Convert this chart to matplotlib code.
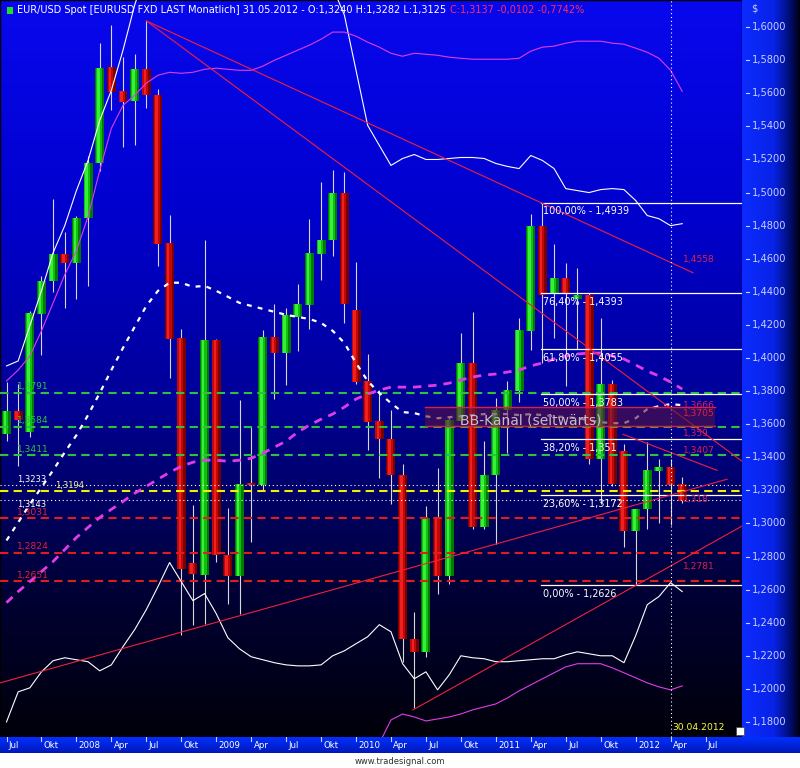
import matplotlib
matplotlib.use("Agg")
import matplotlib.pyplot as plt
import numpy as np
from matplotlib.colors import LinearSegmentedColormap
from matplotlib.transforms import blended_transform_factory
from matplotlib.patches import Rectangle

# monthly EUR/USD candles, Jul 2007 .. May 2012 (month index 0 = Jul 2007)
opens = [1.3540, 1.3680, 1.3552, 1.4267, 1.4467, 1.4630, 1.4576, 1.4848, 1.5176, 1.5758,
         1.5612, 1.5552, 1.5746, 1.5588, 1.4697, 1.4121, 1.2758, 1.2691, 1.4109, 1.2812,
         1.2685, 1.3242, 1.3230, 1.4127, 1.4030, 1.4248, 1.4321, 1.4630, 1.4715, 1.5000,
         1.4291, 1.3861, 1.3618, 1.3509, 1.3291, 1.2303, 1.2224, 1.3030, 1.2685, 1.3618,
         1.3970, 1.2976, 1.3291, 1.3685, 1.3800, 1.4164, 1.4800, 1.4388, 1.4485, 1.4358,
         1.4382, 1.3388, 1.3842, 1.3436, 1.2952, 1.3085, 1.3315, 1.3339, 1.3240]
highs = [1.3855, 1.3840, 1.4285, 1.4497, 1.4964, 1.4764, 1.4860, 1.5218, 1.5903, 1.6012,
         1.5818, 1.5836, 1.6038, 1.5624, 1.4867, 1.4176, 1.3110, 1.4715, 1.4115, 1.3091,
         1.3745, 1.3582, 1.4170, 1.4327, 1.4303, 1.4448, 1.4842, 1.5061, 1.5139, 1.5127,
         1.4582, 1.4024, 1.3806, 1.3685, 1.3358, 1.2467, 1.3103, 1.3333, 1.3650, 1.4152,
         1.4279, 1.3497, 1.3758, 1.3861, 1.4242, 1.4873, 1.4939, 1.4690, 1.4576, 1.4545,
         1.4390, 1.4242, 1.3867, 1.3479, 1.3090, 1.3491, 1.3388, 1.3388, 1.3282]
lows = [1.3500, 1.3350, 1.3520, 1.4018, 1.4400, 1.4303, 1.4357, 1.4436, 1.5133, 1.5497,
        1.5273, 1.5290, 1.5510, 1.4557, 1.3879, 1.2327, 1.2388, 1.2394, 1.2764, 1.2515,
        1.2454, 1.2885, 1.3205, 1.3752, 1.3836, 1.4042, 1.4176, 1.4473, 1.4618, 1.4212,
        1.3840, 1.3443, 1.3273, 1.3115, 1.2164, 1.1885, 1.2194, 1.2576, 1.2636, 1.3600,
        1.2964, 1.2964, 1.2873, 1.3424, 1.3733, 1.4048, 1.3968, 1.4121, 1.3830, 1.4055,
        1.3358, 1.3115, 1.3224, 1.2855, 1.2626, 1.2964, 1.3000, 1.2988, 1.3125]
closes = [1.3680, 1.3624, 1.4273, 1.4467, 1.4630, 1.4576, 1.4848, 1.5176, 1.5752, 1.5606,
          1.5545, 1.5746, 1.5588, 1.4691, 1.4115, 1.2727, 1.2697, 1.4109, 1.2812, 1.2685,
          1.3236, 1.3230, 1.4127, 1.4030, 1.4260, 1.4327, 1.4636, 1.4715, 1.5000, 1.4327,
          1.3855, 1.3612, 1.3509, 1.3291, 1.2303, 1.2224, 1.3030, 1.2685, 1.3624, 1.3970,
          1.2976, 1.3291, 1.3685, 1.3806, 1.4170, 1.4800, 1.4382, 1.4485, 1.4388, 1.4382,
          1.3388, 1.3842, 1.3236, 1.2952, 1.3085, 1.3321, 1.3339, 1.3230, 1.3137]

# white bollinger band
bb_upper = [1.3952, 1.3982, 1.4194, 1.4406, 1.4636, 1.4800, 1.5012, 1.5194, 1.5436, 1.5618,
            1.5861, 1.6133, 1.6350, 1.6480, 1.6520, 1.6550, 1.6520, 1.6550, 1.6530, 1.6480,
            1.6450, 1.6430, 1.6410, 1.6400, 1.6380, 1.6360, 1.6340, 1.6300, 1.6240, 1.6073,
            1.5739, 1.5406, 1.5285, 1.5164, 1.5206, 1.5230, 1.5200, 1.5200, 1.5206, 1.5212,
            1.5212, 1.5206, 1.5176, 1.5158, 1.5145, 1.5224, 1.5194, 1.5145, 1.5024, 1.5012,
            1.5000, 1.5018, 1.5024, 1.5018, 1.4952, 1.4861, 1.4842, 1.4800, 1.4812]
bb_mid = [1.2897, 1.3006, 1.3115, 1.3218, 1.3321, 1.3430, 1.3533, 1.3655, 1.3788, 1.3927,
          1.4061, 1.4188, 1.4315, 1.4406, 1.4455, 1.4455, 1.4430, 1.4436, 1.4406, 1.4370,
          1.4333, 1.4315, 1.4297, 1.4279, 1.4261, 1.4248, 1.4236, 1.4212, 1.4164, 1.4091,
          1.3970, 1.3861, 1.3788, 1.3727, 1.3673, 1.3667, 1.3648, 1.3636, 1.3642, 1.3648,
          1.3655, 1.3661, 1.3661, 1.3661, 1.3655, 1.3661, 1.3655, 1.3648, 1.3642, 1.3636,
          1.3624, 1.3612, 1.3606, 1.3606, 1.3636, 1.3691, 1.3709, 1.3721, 1.3715]
bb_lower = [1.1800, 1.1982, 1.2006, 1.2103, 1.2170, 1.2188, 1.2176, 1.2164, 1.2109, 1.2145,
            1.2255, 1.2358, 1.2479, 1.2618, 1.2764, 1.2648, 1.2533, 1.2576, 1.2455, 1.2309,
            1.2242, 1.2194, 1.2176, 1.2158, 1.2145, 1.2139, 1.2139, 1.2145, 1.2200, 1.2230,
            1.2273, 1.2315, 1.2388, 1.2345, 1.2152, 1.2061, 1.2103, 1.1994, 1.2085, 1.2200,
            1.2188, 1.2182, 1.2164, 1.2164, 1.2170, 1.2176, 1.2182, 1.2182, 1.2206, 1.2224,
            1.2212, 1.2200, 1.2200, 1.2158, 1.2321, 1.2509, 1.2558, 1.2642, 1.2588]

# magenta bollinger band
bb2_upper = [1.3861, 1.3927, 1.4012, 1.4164, 1.4333, 1.4503, 1.4648, 1.4855, 1.5133, 1.5388,
             1.5527, 1.5588, 1.5661, 1.5709, 1.5727, 1.5721, 1.5727, 1.5745, 1.5752, 1.5745,
             1.5739, 1.5739, 1.5764, 1.5800, 1.5830, 1.5861, 1.5891, 1.5927, 1.5970, 1.5970,
             1.5945, 1.5909, 1.5879, 1.5842, 1.5824, 1.5842, 1.5836, 1.5830, 1.5818, 1.5812,
             1.5806, 1.5806, 1.5806, 1.5806, 1.5812, 1.5855, 1.5879, 1.5885, 1.5903, 1.5915,
             1.5915, 1.5915, 1.5903, 1.5897, 1.5873, 1.5848, 1.5812, 1.5739, 1.5612]
bb2_mid = [1.2521, 1.2588, 1.2648, 1.2709, 1.2770, 1.2842, 1.2915, 1.2976, 1.3036, 1.3085,
           1.3133, 1.3182, 1.3224, 1.3267, 1.3309, 1.3345, 1.3370, 1.3382, 1.3382, 1.3376,
           1.3382, 1.3394, 1.3424, 1.3461, 1.3497, 1.3552, 1.3594, 1.3630, 1.3661, 1.3703,
           1.3752, 1.3782, 1.3806, 1.3824, 1.3824, 1.3824, 1.3830, 1.3836, 1.3848, 1.3867,
           1.3885, 1.3897, 1.3903, 1.3915, 1.3927, 1.3952, 1.3970, 1.3994, 1.4012, 1.4024,
           1.4030, 1.4030, 1.4012, 1.3994, 1.3958, 1.3921, 1.3891, 1.3855, 1.3812]
bb2_lower = [1.1180, 1.1250, 1.1280, 1.1260, 1.1210, 1.1180, 1.1180, 1.1100, 1.0940, 1.0780,
             1.0740, 1.0780, 1.0790, 1.0820, 1.0890, 1.0970, 1.1010, 1.1020, 1.1010, 1.1010,
             1.1020, 1.1050, 1.1080, 1.1120, 1.1160, 1.1240, 1.1300, 1.1330, 1.1350, 1.1440,
             1.1560, 1.1600, 1.1670, 1.1812, 1.1848, 1.1830, 1.1806, 1.1818, 1.1830, 1.1848,
             1.1873, 1.1891, 1.1909, 1.1945, 1.1988, 1.2024, 1.2061, 1.2097, 1.2133, 1.2152,
             1.2152, 1.2152, 1.2127, 1.2097, 1.2067, 1.2036, 1.2012, 1.1994, 1.2018]

# horizontal support / resistance levels
green_levels = [1.3791, 1.3584, 1.3411]
red_levels = [1.3031, 1.2824, 1.2651]
white_levels = [1.3233, 1.3143]
yellow_levels = [1.3194]

# fibonacci retracement (May 2011 high -> Jan 2012 low)
fib_start = 45.9
fib_levels = [1.4939, 1.4393, 1.4055, 1.3783, 1.3510, 1.3172, 1.2626]
fib_labels = ["100,00% - 1,4939", "76,40% - 1,4393", "61,80% - 1,4055", "50,00% - 1,3783",
              "38,20% - 1,351", "23,60% - 1,3172", "0,00% - 1,2626"]

# trend lines: (month, price) -> (month, price)
trend_lines = [((12.0, 1.6038), (58.93, 1.4515)),
               ((12.0, 1.6038), (63.13, 1.3376)),
               ((52.92, 1.3539), (60.99, 1.3321)),
               ((-0.56, 1.2036), (61.85, 1.3267)),
               ((34.89, 1.1873), (63.13, 1.2984))]
line_label_prices = [1.4594, 1.3715, 1.3667, 1.3545, 1.3442, 1.3145, 1.2739]
line_label_texts = ["1,4558", "1,3666", "1,3705", "1,359", "1,3407", "1,318", "1,2781"]

# "BB-Kanal" box
box_months = (35.9, 60.8)
box_prices = (1.3590, 1.3705)

marker_month = 57  # 30.04.2012
tick_months = list(range(0, 61, 3))
tick_labels = ["Jul", "Okt", "2008", "Apr", "Jul", "Okt", "2009", "Apr", "Jul", "Okt", "2010",
               "Apr", "Jul", "Okt", "2011", "Apr", "Jul", "Okt", "2012", "Apr", "Jul"]
price_ticks = [1.18 + 0.02 * k for k in range(22)]

plt.rcParams['font.family'] = ['DejaVu Sans']

W, H = 800, 768
fig = plt.figure(figsize=(W / 100, H / 100), dpi=100, facecolor='white')
ax = fig.add_axes([0, 31 / H, 742 / W, 737 / H])
x0, x1 = -0.558, 63.13
y0, y1 = 1.1709, 1.6164
ax.set_xlim(x0, x1)
ax.set_ylim(y0, y1)
ax.set_xticks([])
ax.set_yticks([])
for s in ax.spines.values():
    s.set_color('black')
    s.set_linewidth(1)

bg_cmap = LinearSegmentedColormap.from_list(
    'bg', [(0, '#00000a'), (0.2, '#000036'), (0.45, '#000096'), (0.7, '#0000cc'), (1, '#0808ee')])
grad = np.linspace(0, 1, 256).reshape(-1, 1)
ax.imshow(grad, extent=[x0, x1, y0, y1], origin='lower', aspect='auto', cmap=bg_cmap, zorder=0)

# candles
months = np.arange(len(opens))
for i in months:
    o, h, l, c = opens[i], highs[i], lows[i], closes[i]
    ax.vlines(i, l, h, color='#d8d8d8', lw=0.8, zorder=2)
    if c >= o:
        shades = ('#007a00', '#10c010', '#38f038')
    else:
        shades = ('#7a0000', '#c00808', '#f02020')
    bot = min(o, c)
    hgt = max(abs(c - o), 0.0007)
    ax.bar(i, hgt, bottom=bot, width=0.77, color=shades[0], lw=0, zorder=3)
    ax.bar(i - 0.08, hgt, bottom=bot, width=0.5, color=shades[1], lw=0, zorder=3)
    ax.bar(i - 0.12, hgt, bottom=bot, width=0.22, color=shades[2], lw=0, zorder=3)

# horizontal levels
for lv in green_levels:
    ax.axhline(lv, color='#2ec040', lw=1.5, ls=(0, (4, 2.5)), zorder=4)
    ax.text(0.9, lv + 0.0008, f"{lv:.4f}".replace('.', ','), color='#2ec040',
            fontsize=6.6, va='bottom', zorder=6)
for lv in red_levels:
    ax.axhline(lv, color='#e01c1c', lw=1.5, ls=(0, (4, 2.5)), zorder=4)
    ax.text(0.9, lv + 0.0008, f"{lv:.4f}".replace('.', ','), color='#e0203a',
            fontsize=6.6, va='bottom', zorder=6)
for lv in white_levels:
    ax.axhline(lv, color='white', lw=0.8, ls=(0, (1, 2.5)), zorder=4)
for lv in yellow_levels:
    ax.axhline(lv, color='#f0f000', lw=1.5, ls=(0, (4, 2.5)), zorder=4)
# the three close levels share one crowded spot, spread a little
ax.text(0.9, white_levels[0] + 0.0006, "1,3233", color='white', fontsize=6.0, va='bottom', zorder=6)
ax.text(4.2, yellow_levels[0] + 0.0006, "1,3194", color='#f0f0a0', fontsize=6.0, va='bottom', zorder=6)
ax.text(0.9, white_levels[1] - 0.0004, "1,3143", color='white', fontsize=6.0, va='top', zorder=6)

# bollinger bands
ax.plot(months, bb_upper, color='white', lw=0.8, zorder=5)
ax.plot(months, bb_lower, color='white', lw=0.8, zorder=5)
ax.plot(months, bb_mid, color='white', lw=1.6, ls=(0, (2.2, 2.8)), zorder=5)
ax.plot(months, bb2_upper, color='#e03ce6', lw=0.8, zorder=5)
ax.plot(months, bb2_lower, color='#e03ce6', lw=0.8, zorder=5)
ax.plot(months, bb2_mid, color='#e03ce6', lw=2.0, ls=(0, (3, 2.5)), zorder=5)

# fibonacci
for lv, lab in zip(fib_levels, fib_labels):
    ax.plot([fib_start, x1], [lv, lv], color='white', lw=0.9, zorder=5)
    ax.text(fib_start + 0.15, lv - 0.0022, lab, color='white', fontsize=6.9, va='top', zorder=6)

# trend lines
for (ma, pa), (mb, pb) in trend_lines:
    ax.plot([ma, mb], [pa, pb], color='#f0203c', lw=0.8, zorder=5)

# BB-Kanal box
ax.add_patch(Rectangle((box_months[0], box_prices[0]), box_months[1] - box_months[0],
                       box_prices[1] - box_prices[0], facecolor='#5a1440', alpha=0.6,
                       edgecolor='none', zorder=6))
for bp in box_prices:
    ax.plot(box_months, [bp, bp], color='#d82040', lw=1.0, zorder=7)
ax.text(38.9, 1.3620, "BB-Kanal (seitwärts)", color='#c8bcc8', fontsize=10, va='center', zorder=8)

for p, lab in zip(line_label_prices, line_label_texts):
    ax.text(58.1, p, lab, color='#e0204a', fontsize=6.6, va='center', zorder=8)

# marker for 30.04.2012
ax.axvline(marker_month, color='white', lw=0.8, ls=(0, (1, 2.5)), zorder=5)
ax.text(marker_month + 0.15, 1.1764, "30.04.2012", color='#ffff30', fontsize=6.6, va='center', zorder=8)

# header
fig.patches.append(Rectangle((7 / W, 1 - 14 / H), 6 / W, 7 / H, transform=fig.transFigure,
                             facecolor='#20e020', edgecolor='none', zorder=10))
t1 = fig.text(17 / W, 1 - 10 / H,
              "EUR/USD Spot [EURUSD FXD LAST Monatlich] 31.05.2012 - O:1,3240 H:1,3282 L:1,3125",
              color='white', fontsize=7.05, va='center')
fig.canvas.draw()
bb = t1.get_window_extent()
fig.text((bb.x1 + 4) / W, 1 - 10 / H, "C:1,3137 -0,0102 -0,7742%", color='#ff2d5a',
         fontsize=7.05, va='center')

# right price panel
axr = fig.add_axes([742 / W, 31 / H, 58 / W, 737 / H])
axr.set_xlim(0, 58)
axr.set_ylim(y0, y1)
axr.axis('off')
panel_cmap = LinearSegmentedColormap.from_list(
    'panel', [(0, '#0c2cff'), (0.55, '#0822e6'), (0.8, '#001080'), (1, '#000010')])
axr.imshow(np.linspace(0, 1, 256).reshape(1, -1), extent=[0, 58, y0, y1], aspect='auto',
           cmap=panel_cmap, zorder=0)
for p in price_ticks:
    axr.plot([4, 7], [p, p], color='#c8d0ff', lw=0.8)
    axr.text(9.5, p, f"{p:.4f}".replace('.', ','), color='#c8d0ff', fontsize=7.1, va='center')
axr.text(9.5, 1.6 + 19 / 1650, "$", color='#c8d0ff', fontsize=7.1, va='center')

# bottom time strip
axb = fig.add_axes([0, 15 / H, 1, 16 / H])
axb.set_xlim(0, W)
axb.set_ylim(0, 1)
axb.axis('off')
strip_cmap = LinearSegmentedColormap.from_list('strip', ['#0018b8', '#0030ff'])
axb.imshow(np.linspace(0, 1, 64).reshape(-1, 1), extent=[0, W, 0, 1], origin='lower',
           aspect='auto', cmap=strip_cmap, zorder=0)
trans = blended_transform_factory(ax.transData, axb.transAxes)
for m, lab in zip(tick_months, tick_labels):
    axb.plot([m, m], [0.72, 1.0], transform=trans, color='#c8d0ff', lw=0.8)
    axb.text(m + 0.2, 0.45, lab, transform=trans, color='white', fontsize=6.2, va='center')

fig.patches.append(Rectangle((736 / W, 1 - 735 / H), 8 / W, 8 / H, transform=fig.transFigure,
                             facecolor='white', edgecolor='#404040', lw=0.5, zorder=10))
fig.text(0.5, 1 - 761 / H, "www.tradesignal.com", color='#303030', fontsize=6, ha='center', va='center')

fig.savefig("out.png", dpi=100, facecolor='white')
